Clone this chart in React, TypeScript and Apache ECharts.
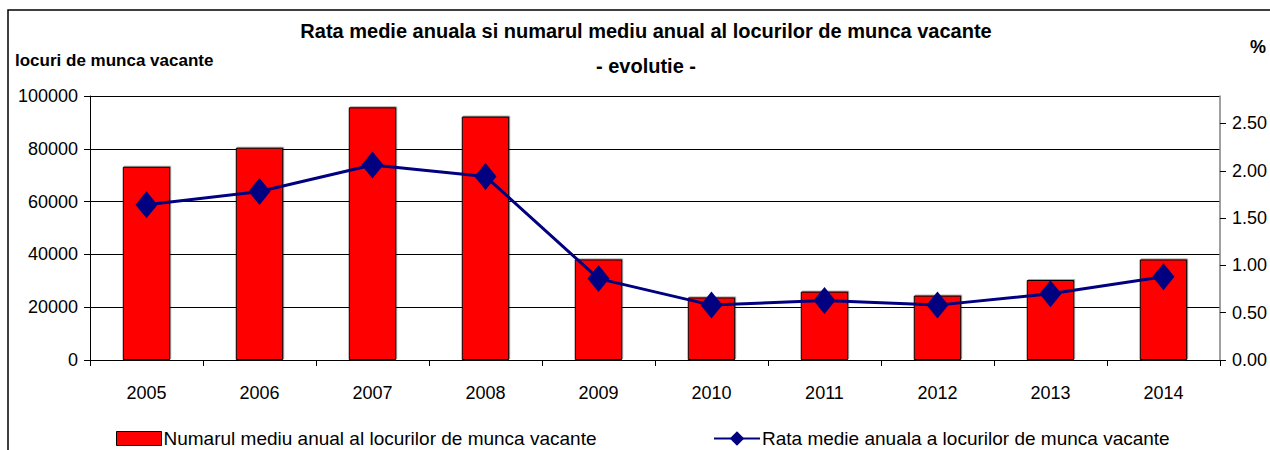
import React, { useEffect, useRef } from "react";
import * as echarts from "echarts";

const years = ["2005", "2006", "2007", "2008", "2009", "2010", "2011", "2012", "2013", "2014"];
const vacancies = [73200, 80400, 95700, 92200, 38100, 23700, 25900, 24400, 30300, 38100];
const vacancyRate = [1.64, 1.78, 2.06, 1.94, 0.86, 0.58, 0.63, 0.58, 0.7, 0.88];

const barName = "Numarul mediu anual al locurilor de munca vacante";
const lineName = "Rata medie anuala a locurilor de munca vacante";
const titleText = "Rata medie anuala si numarul mediu anual al locurilor de munca vacante";
const subtitleText = "- evolutie -";
const leftAxisName = "locuri de munca vacante";
const rightAxisName = "%";

const FONT = "'Liberation Sans', Arial, sans-serif";

export default function App() {
  const ref = useRef<HTMLDivElement>(null);
  useEffect(() => {
    if (!ref.current) return;
    const chart = echarts.init(ref.current, undefined, { renderer: "svg" });
    chart.setOption({
      animation: false,
      backgroundColor: "#fff",
      textStyle: { fontFamily: FONT },
      graphic: [
        {
          type: "rect",
          shape: { x: 8, y: 10, width: 1400, height: 600 },
          style: { fill: "none", stroke: "#000", lineWidth: 1.5 },
          silent: true,
        },
        {
          type: "text",
          x: 646,
          y: 31,
          style: {
            text: titleText,
            font: `bold 20px ${FONT}`,
            fill: "#000",
            align: "center",
            verticalAlign: "middle",
          },
        },
        {
          type: "text",
          x: 646,
          y: 66,
          style: {
            text: subtitleText,
            font: `bold 20px ${FONT}`,
            fill: "#000",
            align: "center",
            verticalAlign: "middle",
          },
        },
        {
          type: "text",
          x: 15,
          y: 60,
          style: {
            text: leftAxisName,
            font: `bold 17px ${FONT}`,
            fill: "#000",
            align: "left",
            verticalAlign: "middle",
          },
        },
        {
          type: "text",
          x: 1250,
          y: 47,
          style: {
            text: rightAxisName,
            font: `bold 18px ${FONT}`,
            fill: "#000",
            align: "left",
            verticalAlign: "middle",
          },
        },
      ],
      legend: [
        {
          data: [{ name: barName, itemStyle: { borderColor: "#000", borderWidth: 1 } }],
          left: 111,
          top: 429,
          padding: [0, 5, 0, 5],
          itemWidth: 45,
          itemHeight: 14,
          itemGap: 4,
          icon: "rect",
          textStyle: {
            fontSize: 19,
            lineHeight: 18,
            color: "#000",
            fontFamily: FONT,
            padding: [0, 0, 0, -3],
          },
        },
        {
          data: [lineName],
          left: 708,
          top: 429,
          padding: [0, 5, 0, 5],
          itemWidth: 46,
          itemHeight: 18,
          textStyle: {
            fontSize: 19,
            lineHeight: 18,
            color: "#000",
            fontFamily: FONT,
            padding: [0, 0, 0, -3],
          },
        },
      ],
      grid: { left: 90, right: 48, top: 96, bottom: 90, containLabel: false },
      xAxis: {
        type: "category",
        data: years,
        axisLine: { lineStyle: { color: "#000", width: 1 } },
        axisTick: { show: true, alignWithLabel: false, length: 6, lineStyle: { color: "#000" } },
        axisLabel: { color: "#000", fontSize: 18, margin: 24, fontFamily: FONT },
      },
      yAxis: [
        {
          type: "value",
          min: 0,
          max: 100000,
          interval: 20000,
          position: "left",
          axisLine: { show: true, lineStyle: { color: "#000", width: 1 } },
          axisTick: { show: true, length: 6, lineStyle: { color: "#000" } },
          axisLabel: {
            color: "#000",
            fontSize: 18,
            margin: 12,
            fontFamily: FONT,
            formatter: (v: number) => String(v),
          },
          splitLine: { show: true, lineStyle: { color: "#000", width: 1 } },
        },
        {
          type: "value",
          min: 0,
          max: 2.79,
          interval: 0.5,
          position: "right",
          axisLine: { show: true, lineStyle: { color: "#808080", width: 1.5 } },
          axisTick: { show: true, length: 6, lineStyle: { color: "#000" } },
          axisLabel: {
            color: "#000",
            fontSize: 18,
            margin: 12,
            fontFamily: FONT,
            showMaxLabel: false,
            formatter: (v: number) => v.toFixed(2),
          },
          splitLine: { show: false },
        },
      ],
      series: [
        {
          name: barName,
          type: "bar",
          data: vacancies,
          yAxisIndex: 0,
          barWidth: "42%",
          itemStyle: {
            color: "#FF0000",
            borderColor: "#000",
            borderWidth: 1,
            shadowColor: "rgba(0,0,0,0.35)",
            shadowBlur: 0,
            shadowOffsetX: 1,
            shadowOffsetY: -1,
          },
          z: 2,
        },
        {
          name: lineName,
          type: "line",
          data: vacancyRate,
          yAxisIndex: 1,
          symbol: "diamond",
          symbolSize: [22, 27],
          lineStyle: { color: "#000080", width: 3 },
          itemStyle: { color: "#000080" },
          z: 3,
        },
      ],
    });
    return () => chart.dispose();
  }, []);
  return (
    <div
      ref={ref}
      style={{ position: "fixed", left: 0, top: 0, width: 1270, height: 450 }}
    />
  );
}
